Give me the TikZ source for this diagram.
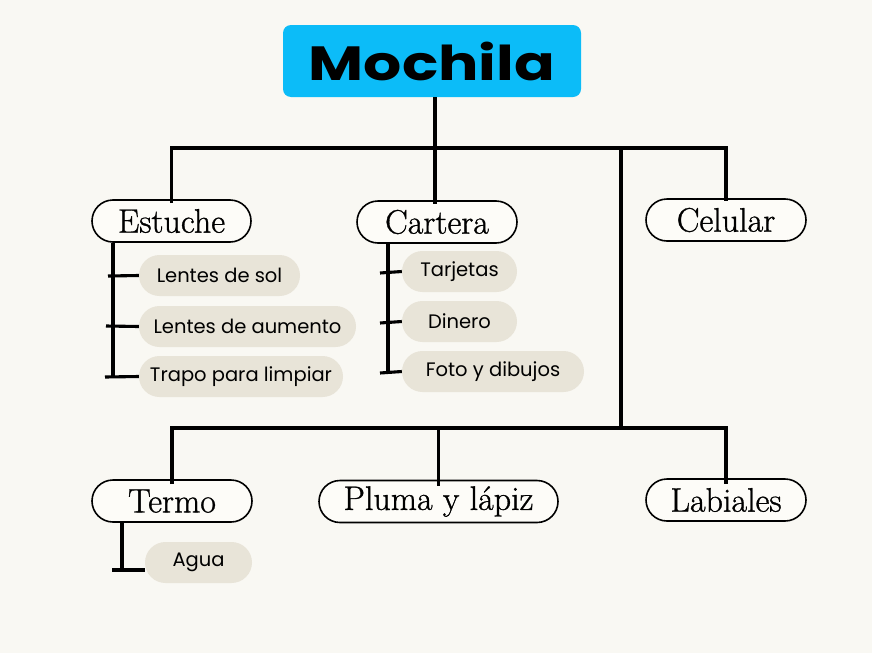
\documentclass[tikz,border=0pt]{standalone}
\usepackage{fontspec}
\setmainfont{Latin Modern Roman}
\newfontfamily\nodefont{Latin Modern Roman}[FakeBold=0.9]
\newfontfamily\subfont{Poppins}
\newfontfamily\titlefont{Poppins}
\definecolor{bgc}{HTML}{F9F8F3}
\definecolor{titlec}{HTML}{0CBCF8}
\definecolor{subc}{HTML}{E8E4D8}
\definecolor{pillc}{HTML}{FDFCF8}
\tikzset{
  mainpill/.style={draw=black, line width=1.6pt, fill=pillc, rounded corners=21pt,
    minimum height=42pt, inner sep=0pt, font=\nodefont\fontsize{34}{34}\selectfont},
  subpill/.style={fill=subc, rounded corners=20.5pt, minimum height=41pt,
    inner sep=0pt, font=\subfont\fontsize{19.5}{19.5}\selectfont},
  link/.style={line width=3.1pt, black},
}
\begin{document}
\begin{tikzpicture}[x=1pt,y=-1pt]
\fill[bgc] (0,0) rectangle (872,653);
\useasboundingbox (0,0) rectangle (872,653);

% title
\node[fill=titlec, rounded corners=8pt, minimum width=298pt, minimum height=72pt, inner sep=0pt]
  (title) at (432,61) {\scalebox{1.25}[1]{\titlefont\bfseries\fontsize{48}{48}\selectfont Mochila}};

% main nodes
\node[mainpill, minimum width=159pt] (est) at (171.5,221) {Estuche};
\node[mainpill, minimum width=160pt] (car) at (437,222) {Cartera};
\node[mainpill, minimum width=160pt] (cel) at (726,220) {Celular};
\node[mainpill, minimum width=160pt] (ter) at (172,501) {Termo};
\node[mainpill, minimum width=239pt] (plu) at (438.5,501.5) {Pluma y lápiz};
\node[mainpill, minimum width=160pt] (lab) at (726,500) {Labiales};

% sub items
\node[subpill, minimum width=161pt] (s1) at (219.5,275.5) {Lentes de sol};
\node[subpill, minimum width=217pt] (s2) at (247.5,326.5) {Lentes de aumento};
\node[subpill, minimum width=204pt] (s3) at (241,376.5) {Trapo para limpiar};
\node[subpill, minimum width=115pt] (c1) at (459.5,271.5) {Tarjetas};
\node[subpill, minimum width=115pt] (c2) at (459.5,321.5) {Dinero};
\node[subpill, minimum width=182pt] (c3) at (493,371.5) {Foto y dibujos};
\node[subpill, minimum width=107pt] (a1) at (198.5,562.5) {Agua};

% junctions
\coordinate (jt) at (435,148);
\coordinate (jr) at (621,148);
\coordinate (jb) at (621,428);

% top tree
\draw[link] (title.south -| jt) -- (jt);
\draw[link] ([yshift=-4pt]est.north) -- (est.north |- jt) -- (cel.north |- jt) -- ([yshift=-3pt]cel.north);
\draw[link] (jt) -- ([yshift=-4pt]car.north -| jt);
\draw[link] (jr) -- (jb);

% bottom tree
\draw[link] ([yshift=-5pt]ter.north) -- (ter.north |- jb) -- (lab.north |- jb) -- ([yshift=-6pt]lab.north);
\draw[link] (plu.north |- jb) -- ([yshift=-6pt]plu.north);

% Estuche bracket
\coordinate (eb) at (113,377);
\draw[link] (est.south -| eb) -- (eb);
\draw[link] (108,276) -- (s1.west);
\draw[link] (106,326) -- (s2.west);
\draw[link] (105,377) -- (s3.west);

% Cartera bracket
\coordinate (cb) at (388,373);
\draw[link] (car.south -| cb) -- (cb);
\draw[link] (380,273) -- (c1.west);
\draw[link] (380,323) -- (c2.west);
\draw[link] (380,373) -- (c3.west);

% Termo bracket
\coordinate (tb) at (122,570);
\draw[link] (ter.south -| tb) -- (tb);
\draw[link] (112,570) -- (a1.west |- tb);
\end{tikzpicture}
\end{document}
